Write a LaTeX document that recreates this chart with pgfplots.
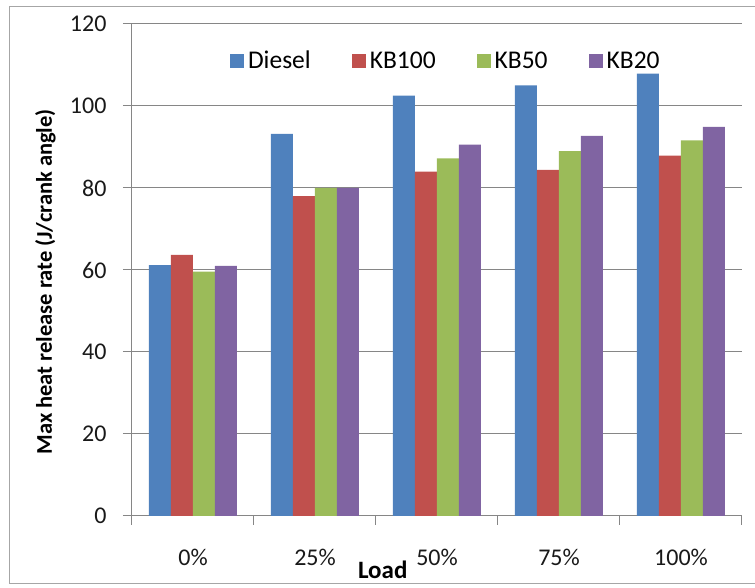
\documentclass[border=0pt]{standalone}
\usepackage{pgfplots}
\pgfplotsset{compat=1.18}
\usepackage{fontspec}
\setmainfont{Carlito}
\definecolor{cDiesel}{HTML}{4F81BD}
\definecolor{cKB100}{HTML}{C0504D}
\definecolor{cKB50}{HTML}{9BBB59}
\definecolor{cKB20}{HTML}{8064A2}
\definecolor{axgray}{HTML}{868686}
\definecolor{framegray}{HTML}{A6A6A6}
\begin{document}
\begin{tikzpicture}
\begin{axis}[
  scale only axis, width=610pt, height=492pt,
  ybar=0pt, bar width=22pt,
  xmin=-0.5, xmax=4.5, ymin=0, ymax=120,
  ytick={0,20,...,120},
  xtick={-0.5,0.5,1.5,2.5,3.5,4.5},
  xticklabels={},
  extra x ticks={0,1,2,3,4},
  extra x tick labels={0\%,25\%,50\%,75\%,100\%},
  extra x tick style={tick style={draw=none}},
  axis x line*=bottom, axis y line*=left,
  axis line style={draw=axgray, line width=1pt, -},
  tick align=outside, major tick length=9pt,
  tick style={draw=axgray, line width=1pt},
  ymajorgrids, grid style={draw=axgray, line width=1pt},
  /pgf/number format/assume math mode=true,
  tick label style={font=\fontsize{24}{28}\selectfont, text=black!90},
  yticklabel style={xshift=-13pt},
  xticklabel style={yshift=-21pt},
  xlabel={Load}, ylabel={Max heat release rate (J/crank angle)},
  xlabel style={font=\bfseries\fontsize{25}{28}\selectfont, at={(axis description cs:0.411,-0.1098)}, anchor=center},
  ylabel style={font=\bfseries\fontsize{22.5}{26}\selectfont, at={(axis description cs:-0.142,0.476)}, anchor=center},
  legend image code/.code={\fill[#1] (0pt,-7pt) rectangle (14pt,7pt);},
  legend columns=4,
  legend style={draw=none, fill=none, at={(axis description cs:0.5145,0.925)}, anchor=center,
    font=\fontsize{25.5}{28}\selectfont, /tikz/every even column/.append style={column sep=39pt},
    /tikz/every odd column/.append style={column sep=2pt}},
]
\addplot[fill=cDiesel, draw=none] coordinates {(0,61.2) (1,93.2) (2,102.5) (3,105.0) (4,107.9)};
\addplot[fill=cKB100, draw=none] coordinates {(0,63.7) (1,78.0) (2,84.0) (3,84.4) (4,87.9)};
\addplot[fill=cKB50, draw=none] coordinates {(0,59.6) (1,80.0) (2,87.2) (3,89.0) (4,91.6)};
\addplot[fill=cKB20, draw=none] coordinates {(0,61.0) (1,80.0) (2,90.6) (3,92.7) (4,94.9)};
\legend{Diesel,KB100,KB50,KB20}
\end{axis}
\draw[framegray, line width=1pt] (623pt,509pt) -- (-122pt,509pt) -- (-122pt,-68pt) -- (623pt,-68pt);
\pgfresetboundingbox
\path[use as bounding box] (-132pt,-72pt) rectangle (623pt,516pt);
\end{tikzpicture}
\end{document}
